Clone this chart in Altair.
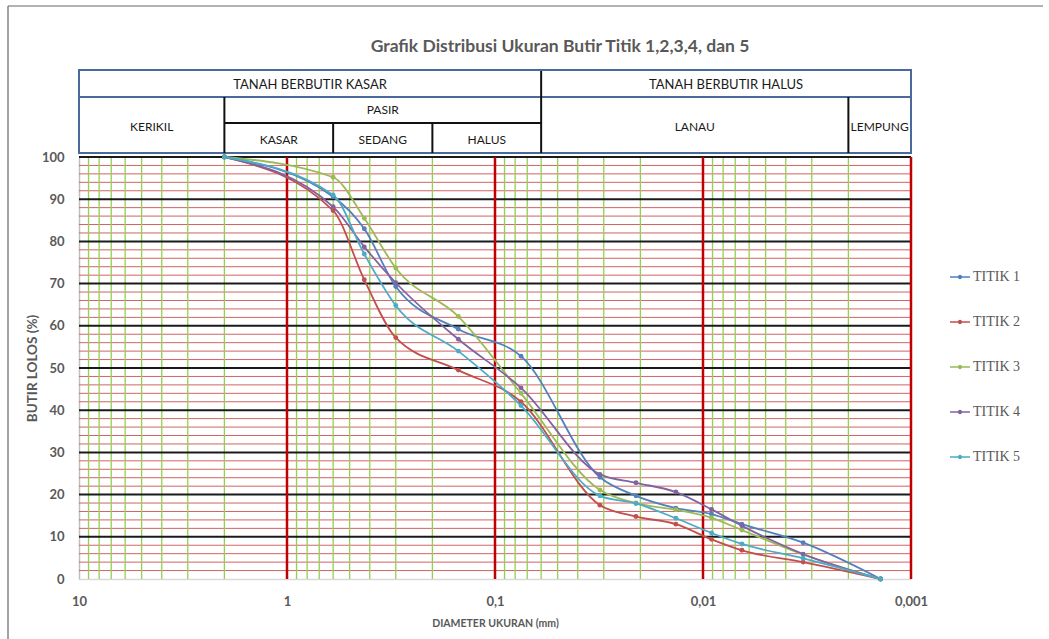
import altair as alt
import pandas as pd
import numpy as np

# ---------------- data ----------------
diameters = [2.0, 0.6, 0.425, 0.3, 0.15, 0.075, 0.0313, 0.0210, 0.0135, 0.0091, 0.0065, 0.0033, 0.0014]
titik1 = [100, 90.6, 83.0, 69.3, 59.2, 52.8, 24.1, 19.7, 16.8, 15.4, 13.0, 8.6, 0]
titik2 = [100, 87.3, 70.9, 57.2, 49.5, 42.0, 17.5, 14.8, 13.0, 9.4, 6.8, 4.0, 0]
titik3 = [100, 95.2, 85.5, 73.7, 62.2, 44.0, 21.1, 18.0, 16.4, 14.5, 11.6, 5.8, 0]
titik4 = [100, 88.2, 78.7, 70.2, 56.8, 45.3, 24.8, 22.8, 20.6, 16.5, 12.6, 5.9, 0]
titik5 = [100, 91.0, 77.0, 64.8, 54.0, 41.1, 19.7, 17.9, 14.4, 10.9, 8.3, 4.9, 0]
series_names = ["TITIK 1", "TITIK 2", "TITIK 3", "TITIK 4", "TITIK 5"]
series_colors = ["#4F81BD", "#C0504D", "#9BBB59", "#8064A2", "#4BACC6"]

x_ticks = [10, 1, 0.1, 0.01, 0.001]
y_ticks = [0, 10, 20, 30, 40, 50, 60, 70, 80, 90, 100]

header_bounds = [10, 2, 0.6, 0.2, 0.06, 0.002, 0.001]
chart_title = "Grafik Distribusi Ukuran Butir Titik 1,2,3,4, dan 5"

rows = []
for name, vals in zip(series_names, [titik1, titik2, titik3, titik4, titik5]):
    for d, v in zip(diameters, vals):
        rows.append({"d": d, "p": v, "s": name})
df = pd.DataFrame(rows)

W, H = 832, 422
FONT = "Lato"
GREY = "#595959"
xscale = alt.Scale(type="log", domain=[0.001, 10], reverse=True)
yscale = alt.Scale(domain=[0, 100], nice=False)

xaxis = alt.Axis(values=x_ticks, labelExpr="replace(toString(datum.value), '.', ',')",
                 title="DIAMETER UKURAN (mm)", grid=False, ticks=False, tickSize=0,
                 labelFont=FONT, labelFontWeight="bold", labelFontSize=13, labelColor=GREY,
                 labelPadding=16, labelFlush=False, domainColor="#d9d9d9", domainWidth=1.5,
                 titleFont=FONT, titleFontWeight="bold", titleFontSize=10.5, titleColor=GREY,
                 titlePadding=10)
yaxis = alt.Axis(values=y_ticks, title="BUTIR LOLOS  (%)", grid=False, ticks=False, tickSize=0,
                 labelFont=FONT, labelFontWeight="bold", labelFontSize=13, labelColor=GREY,
                 labelPadding=15, domainColor="#bfbfbf", domainWidth=1.5,
                 titleFont=FONT, titleFontWeight="bold", titleFontSize=13.5, titleColor=GREY,
                 titlePadding=2)


def X(field):
    return alt.X(field, scale=xscale, axis=xaxis)


def Y(field):
    return alt.Y(field, scale=yscale, axis=yaxis)


# ---------------- grid ----------------
minor_y = pd.DataFrame({"y": [v for v in range(2, 100, 2) if v % 10]})
major_y = pd.DataFrame({"y": list(range(10, 101, 10))})
minor_x = pd.DataFrame({"x": [m * 10.0 ** k for k in (0, -1, -2, -3) for m in range(2, 10)]})
major_x = pd.DataFrame({"x": [1, 0.1, 0.01, 0.001]})

h_minor = alt.Chart(minor_y).mark_rule(color="#d26262", strokeWidth=1).encode(
    y=Y("y:Q"), x=alt.value(0), x2=alt.value(W))
v_minor = alt.Chart(minor_x).mark_rule(color="#92d050", strokeWidth=1.3).encode(
    x=X("x:Q"), y=alt.value(0), y2=alt.value(H))
h_major = alt.Chart(major_y).mark_rule(color="#1a1a1a", strokeWidth=2).encode(
    y=Y("y:Q"), x=alt.value(0), x2=alt.value(W))
v_major = alt.Chart(major_x).mark_rule(color="#c00000", strokeWidth=2.5).encode(
    x=X("x:Q"), y=alt.value(0), y2=alt.value(H))

# ---------------- series ----------------
legend_path = ("M-1,-0.07L-0.2,-0.07L-0.2,0.07L-1,0.07Z "
               "M0.2,-0.07L1,-0.07L1,0.07L0.2,0.07Z "
               "M0.22,0A0.22,0.22,0,1,1,-0.22,0A0.22,0.22,0,1,1,0.22,0Z")
legend = alt.Legend(title=None, orient="none", legendX=871, legendY=110,
                    symbolType=legend_path, symbolSize=400,
                    symbolStrokeWidth=0, symbolOpacity=1,
                    labelFont="Liberation Serif", labelFontSize=14,
                    labelColor=GREY, labelOffset=3, rowPadding=28, padding=0)
color = alt.Color("s:N", scale=alt.Scale(domain=series_names, range=series_colors), legend=legend)

lines = alt.Chart(df).mark_line(interpolate="monotone", strokeWidth=1.8).encode(
    x=X("d:Q"), y=Y("p:Q"), color=color)
points = alt.Chart(df).mark_point(filled=True, size=24, opacity=1).encode(
    x=X("d:Q"), y=Y("p:Q"), color=color)

# ---------------- header table ----------------
HB = "#4a6a9c"
box = alt.Chart(pd.DataFrame({"a": [10], "b": [0.001]})).mark_rect(
    fillOpacity=0, stroke=HB, strokeWidth=2).encode(
    x=X("a:Q"), x2="b:Q", y=alt.value(-87), y2=alt.value(-4))
row_line = alt.Chart(pd.DataFrame({"a": [10], "b": [0.001]})).mark_rule(
    color=HB, strokeWidth=2).encode(
    x=X("a:Q"), x2="b:Q", y=alt.value(-60))
sub_line = alt.Chart(pd.DataFrame({"a": [header_bounds[1]], "b": [header_bounds[4]]})).mark_rule(
    color="#111", strokeWidth=2).encode(
    x=X("a:Q"), x2="b:Q", y=alt.value(-34))
v_full = alt.Chart(pd.DataFrame({"b": [header_bounds[4]]})).mark_rule(color="#111", strokeWidth=2).encode(
    x=X("b:Q"), y=alt.value(-86), y2=alt.value(-4))
v_row2 = alt.Chart(pd.DataFrame({"b": [header_bounds[1], header_bounds[5]]})).mark_rule(
    color="#111", strokeWidth=2).encode(
    x=X("b:Q"), y=alt.value(-60), y2=alt.value(-4))
v_sub = alt.Chart(pd.DataFrame({"b": [header_bounds[2], header_bounds[3]]})).mark_rule(
    color="#111", strokeWidth=2).encode(
    x=X("b:Q"), y=alt.value(-34), y2=alt.value(-4))


def gmid(a, b):
    return float(np.sqrt(a * b))


hb = header_bounds
row1 = pd.DataFrame({"t": ["TANAH BERBUTIR KASAR", "TANAH BERBUTIR HALUS"],
                     "x": [gmid(hb[0], hb[4]), gmid(hb[4], hb[6])]})
row2a = pd.DataFrame({"t": ["PASIR"], "x": [gmid(hb[1], hb[4])]})
row2b = pd.DataFrame({"t": ["KERIKIL", "LANAU", "LEMPUNG"],
                      "x": [gmid(hb[0], hb[1]), gmid(hb[4], hb[5]), gmid(hb[5], hb[6])]})
row3 = pd.DataFrame({"t": ["KASAR", "SEDANG", "HALUS"],
                     "x": [gmid(hb[1], hb[2]), gmid(hb[2], hb[3]), gmid(hb[3], hb[4])]})


def text_layer(d, ypix, size):
    return alt.Chart(d).mark_text(font=FONT, fontSize=size, color="#1a1a1a", baseline="middle").encode(
        x=X("x:Q"), y=alt.value(ypix), text="t:N")


t1 = text_layer(row1, -72, 13)
t2 = text_layer(row2a, -47, 12)
t3 = text_layer(row2b, -30, 12)
t4 = text_layer(row3, -17, 12)

title = alt.Chart(pd.DataFrame({"t": [chart_title]})).mark_text(
    font=FONT, fontSize=17.5, fontWeight="bold", color=GREY, baseline="middle").encode(
    x=alt.value(481), y=alt.value(-110), text="t:N")

frame_top = alt.Chart(pd.DataFrame({"k": [0]})).mark_rule(color="#666", strokeWidth=1.2).encode(
    x=alt.value(-71), x2=alt.value(964), y=alt.value(-151))
frame_left = alt.Chart(pd.DataFrame({"k": [0]})).mark_rule(color="#666", strokeWidth=1.2).encode(
    x=alt.value(-71), y=alt.value(-151), y2=alt.value(482))

chart = alt.layer(
    h_minor, v_minor, h_major, v_major,
    box, row_line, sub_line, v_full, v_row2, v_sub, t1, t2, t3, t4, title,
    frame_top, frame_left,
    lines, points,
).properties(
    width=W, height=H,
    autosize=alt.AutoSizeParams(type="none"),
    padding={"left": 79, "top": 157, "right": 138, "bottom": 60},
    background="white",
).configure_view(strokeWidth=0)

chart.save("out.html", embed_options={"renderer": "svg", "actions": False})
